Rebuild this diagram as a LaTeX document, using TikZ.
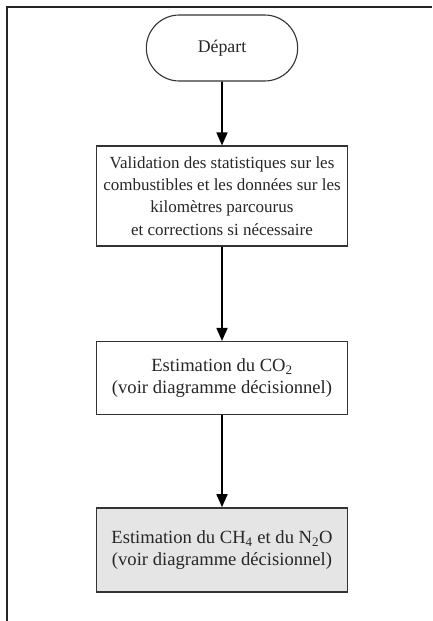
\documentclass[tikz,border=0pt]{standalone}
\usepackage{fontspec}
\setmainfont{Liberation Serif}
\usetikzlibrary{arrows.meta,shapes.misc}
\begin{document}
\begin{tikzpicture}[x=1pt,y=-1pt,
  txt/.style={font=\fontsize{17}{22.3}\selectfont, align=center, text=black!85},
  txtb/.style={font=\fontsize{18.6}{22}\selectfont, align=center, text=black!85},
  procbox/.style={draw=black!80, line width=1.1pt, minimum width=251pt, inner sep=0pt},
  termbox/.style={txt, draw=black!80, line width=1.1pt, rounded rectangle, minimum width=158pt, minimum height=66pt},
  flow/.style={line width=1.6pt, -{Triangle[length=13pt,width=11pt]}}]
\useasboundingbox (0,0) rectangle (432,621);
\draw[line width=1.6pt, black!85] (7,621) -- (7,7) -- (432,7);
\node[termbox, font=\fontsize{17.8}{22}\selectfont] (start) at (222,48) {Départ};
\node[procbox, txt, minimum height=100pt] (valid) at (222,196) {Validation des statistiques sur les\\combustibles et les données sur les\\kilomètres parcourus\\et corrections si nécessaire};
\node[procbox, txtb, minimum height=73pt] (co2) at (222,378) {Estimation du CO\textsubscript{2}\\(voir diagramme décisionnel)};
\node[procbox, txtb, minimum height=84pt, fill=black!10, line width=1.6pt] (ch4) at (222,550) {Estimation du CH\textsubscript{4} et du N\textsubscript{2}O\\(voir diagramme décisionnel)};
\draw[flow] (start) -- (valid);
\draw[flow] (valid) -- (co2);
\draw[flow] (co2) -- (ch4);
\end{tikzpicture}
\end{document}
